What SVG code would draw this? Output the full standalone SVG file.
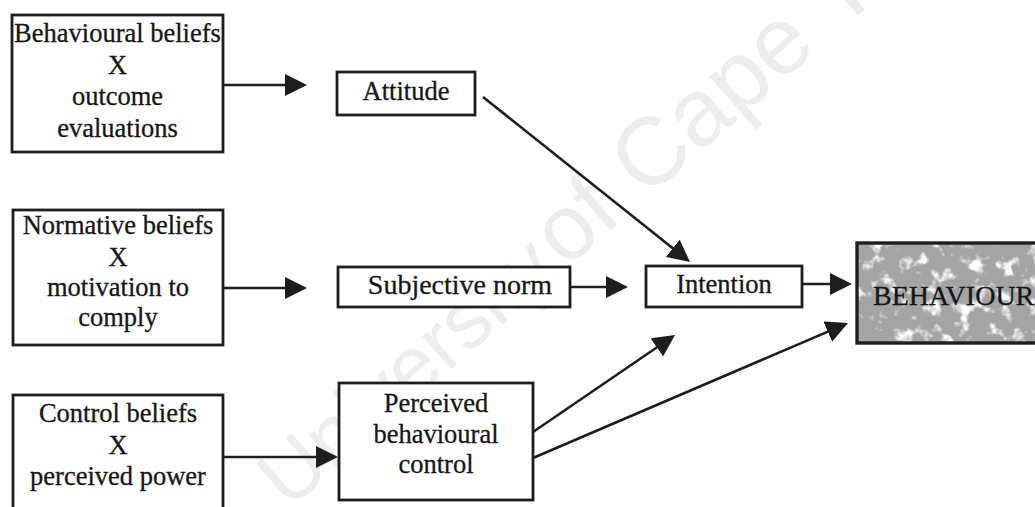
<svg xmlns="http://www.w3.org/2000/svg" width="1035" height="507" viewBox="0 0 1035 507">
  <defs>
    <style>
      .box { fill: #ffffff; stroke: #1e1e1e; stroke-width: 2.8; }
      .lbl { font-family: "Liberation Serif", "Tinos", "Times New Roman", serif; font-size: 26.5px; fill: #161616; stroke: #161616; stroke-width: 0.3; text-anchor: middle; }
      .edge { stroke: #1e1e1e; stroke-width: 2.6; fill: none; marker-end: url(#head); }
      .mark { font-family: "Liberation Sans", Arial, sans-serif; font-size: 92px; fill: #ededed; text-anchor: middle; }
    </style>
    <marker id="head" viewBox="0 0 22 22" refX="18" refY="11" markerWidth="22" markerHeight="22" markerUnits="userSpaceOnUse" orient="auto">
      <path d="M0,0 L22,11 L0,22 z" fill="#1e1e1e"/>
    </marker>
    <!-- white blotches laid over the grey fill of the outcome box -->
    <filter id="mottle" x="0" y="0" width="100%" height="100%">
      <feTurbulence type="fractalNoise" baseFrequency="0.07" numOctaves="3" seed="7" result="n"/>
      <feColorMatrix in="n" type="matrix" values="0 0 0 0 1  0 0 0 0 1  0 0 0 0 1  5 0 0 0 -2.7"/>
    </filter>
  </defs>

  <rect width="1035" height="507" fill="#ffffff"/>

  <!-- faint diagonal watermark behind the diagram -->
  <text class="mark" transform="translate(222,568) rotate(-41)"><tspan x="268" style="font-size:82px">University</tspan><tspan x="494">of</tspan><tspan x="676" style="font-size:96px">Cape</tspan><tspan x="930" style="font-size:96px">Town</tspan></text>

  <g id="connectors">
    <line class="edge" x1="223" y1="85" x2="303" y2="85"/>
    <line class="edge" x1="223" y1="288" x2="303" y2="288"/>
    <line class="edge" x1="223" y1="457" x2="334" y2="457"/>
    <line class="edge" x1="483" y1="97" x2="686.9" y2="259.5"/>
    <line class="edge" x1="570" y1="287" x2="624" y2="287"/>
    <line class="edge" x1="802" y1="284" x2="848" y2="284"/>
    <line class="edge" x1="533" y1="432" x2="671.7" y2="337.3"/>
    <line class="edge" x1="533" y1="458" x2="844.3" y2="324.6"/>
  </g>

  <g id="behavioural-beliefs">
    <rect class="box" x="12" y="15" width="211" height="137"/>
    <text class="lbl" x="117.5" y="42">Behavioural beliefs</text>
    <text class="lbl" x="117.5" y="74">X</text>
    <text class="lbl" x="117.5" y="105">outcome</text>
    <text class="lbl" x="117.5" y="137">evaluations</text>
  </g>

  <g id="normative-beliefs">
    <rect class="box" x="13" y="210" width="210" height="135"/>
    <text class="lbl" x="118" y="234">Normative beliefs</text>
    <text class="lbl" x="118" y="266">X</text>
    <text class="lbl" x="118" y="296">motivation to</text>
    <text class="lbl" x="118" y="326">comply</text>
  </g>

  <g id="control-beliefs">
    <rect class="box" x="13" y="395" width="210" height="130"/>
    <text class="lbl" x="118" y="422">Control beliefs</text>
    <text class="lbl" x="118" y="454">X</text>
    <text class="lbl" x="118" y="485">perceived power</text>
  </g>

  <g id="attitude">
    <rect class="box" x="337" y="72" width="138" height="43"/>
    <text class="lbl" x="406" y="100">Attitude</text>
  </g>

  <g id="subjective-norm">
    <rect class="box" x="338" y="267" width="232" height="40"/>
    <text class="lbl" x="460" y="294" style="font-size:28px">Subjective norm</text>
  </g>

  <g id="perceived-behavioural-control">
    <rect class="box" x="339" y="383" width="194" height="117"/>
    <text class="lbl" x="436" y="412">Perceived</text>
    <text class="lbl" x="436" y="443">behavioural</text>
    <text class="lbl" x="436" y="473">control</text>
  </g>

  <g id="intention">
    <rect class="box" x="646" y="266" width="156" height="41"/>
    <text class="lbl" x="724" y="293">Intention</text>
  </g>

  <g id="behaviour">
    <rect x="857" y="243" width="180" height="100" fill="#a4a4a4"/>
    <rect x="857" y="243" width="180" height="100" fill="#000" filter="url(#mottle)"/>
    <rect x="857" y="243" width="180" height="100" fill="none" stroke="#1e1e1e" stroke-width="3.4"/>
    <text class="lbl" x="873" y="305" style="text-anchor:start;font-size:28px">BEHAVIOUR</text>
  </g>
</svg>
